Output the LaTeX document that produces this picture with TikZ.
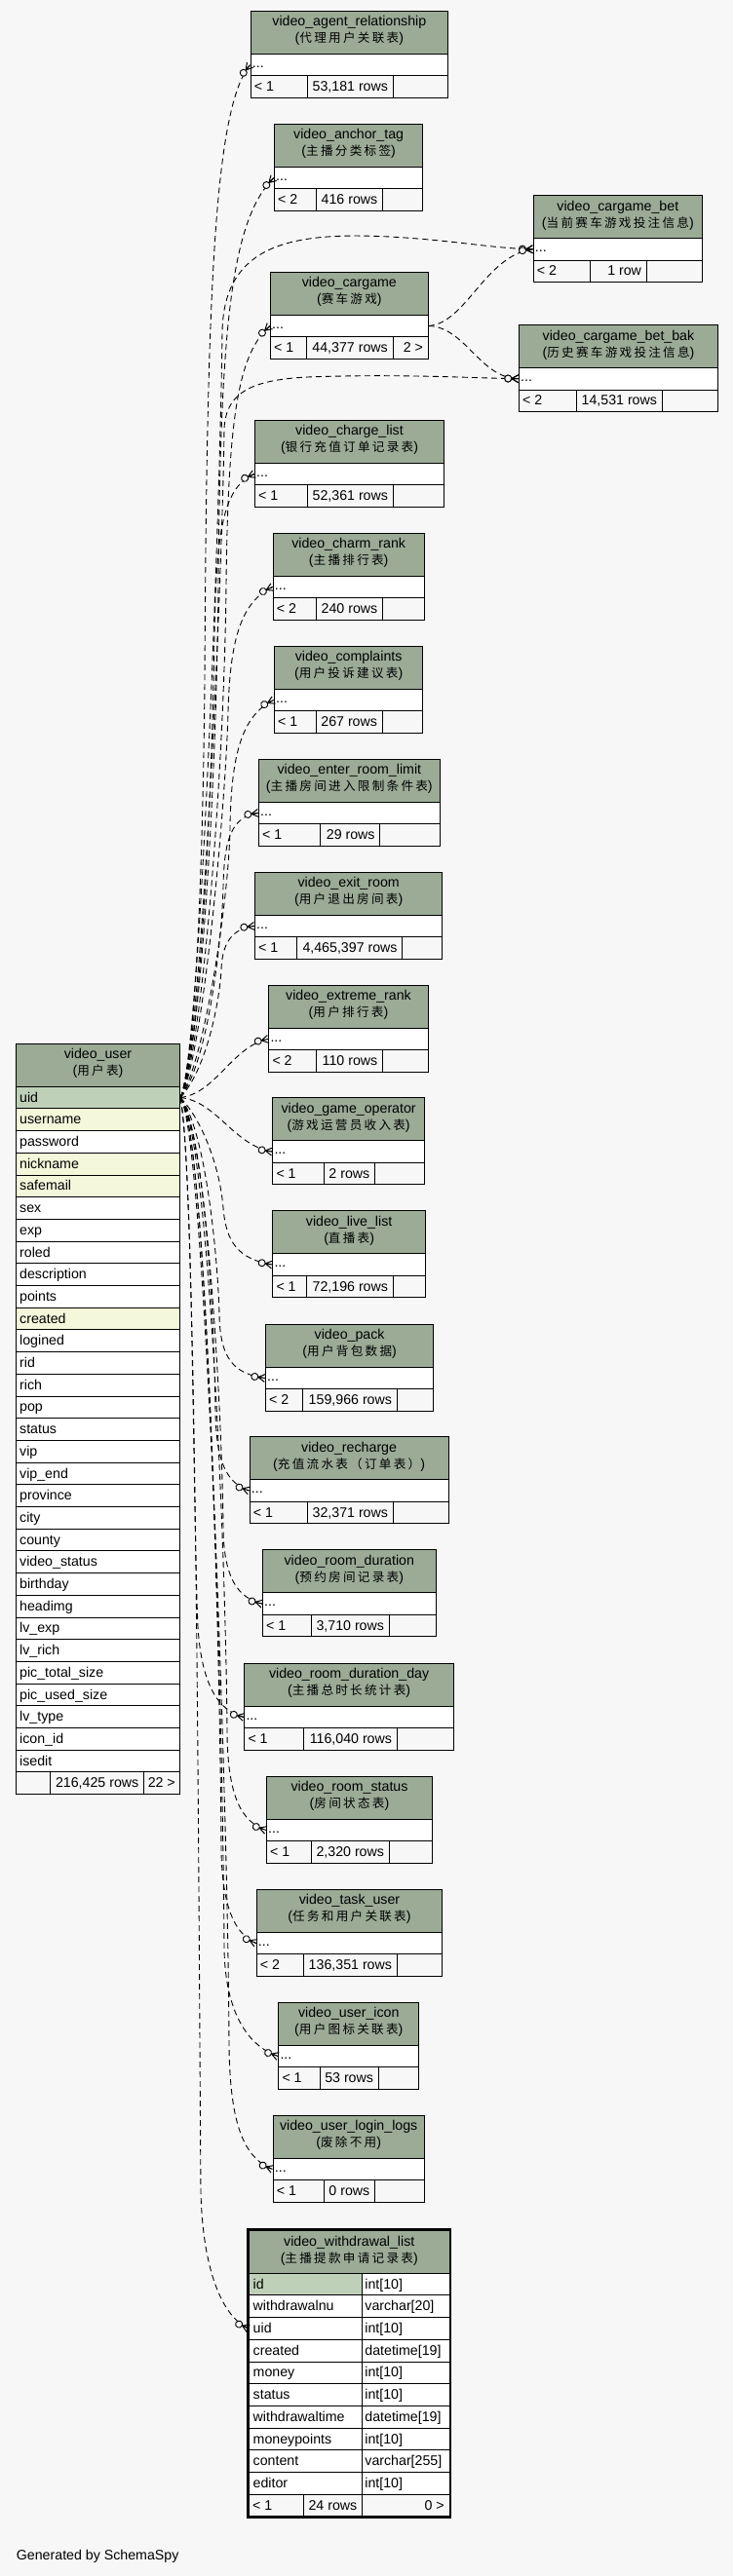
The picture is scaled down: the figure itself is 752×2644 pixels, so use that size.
\documentclass[tikz,border=0pt]{standalone}
\usepackage{fontspec}
\setmainfont{Liberation Sans}
\newfontfamily\cjkfont[LetterSpace=18]{Noto Sans CJK SC}
\usetikzlibrary{decorations.markings}
\definecolor{bgc}{HTML}{F7F7F7}
\definecolor{hdrc}{HTML}{9BAB96}
\definecolor{pkc}{HTML}{BED1B8}
\definecolor{idxc}{HTML}{F4F7DA}
\newcommand\tfont{\fontsize{14.2}{17}\selectfont}
\newcommand\zh[1]{{\cjkfont\fontsize{12.6}{17}\selectfont #1}}
\newcommand\crowmark{%
  \draw[solid,line width=1pt] (-7pt,0pt) -- (0pt,4pt) (-7pt,0pt) -- (0pt,0pt) (-7pt,0pt) -- (0pt,-4pt);
  \draw[solid,line width=0.9pt,fill=bgc] (-10.6pt,0pt) circle (3.5pt);}
\tikzset{
  hdrbox/.style={draw=black,line width=1pt,fill=hdrc,inner sep=0pt,minimum height=44pt},
  rowbox/.style={draw=black,line width=1pt,fill=white,inner sep=0pt},
  cellbox/.style={draw=black,line width=1pt,fill=bgc,inner sep=0pt,minimum height=22.5pt},
  txt/.style={font=\tfont,inner sep=0pt,text=black},
  rel/.style={draw=black,line width=0.9pt,dash pattern=on 6pt off 4pt,
    postaction={decorate,decoration={markings,mark=at position -0.2pt with {\crowmark}}}}
}
% id, x1, x2, top, name, comment, sep1, sep2
\newcommand\tbl[8]{%
  \xdef\tid{#1}\xdef\txa{#2}\xdef\txb{#3}\xdef\tT{#4}\xdef\tsa{#7}\xdef\tsb{#8}%
  \node[hdrbox,minimum width={#3pt-#2pt},anchor=north west] (#1) at (#2,#4) {};
  \node[txt,anchor=base] (#1-name) at ([yshift=-16pt]#1.north) {#5};
  \node[txt,anchor=base] (#1-cmt) at ([yshift=-33pt]#1.north) {(\zh{#6})};
  \node[rowbox,minimum width={#3pt-#2pt},minimum height=22.5pt,anchor=north west] (#1-dots) at (#2,#4+44) {};
  \node[txt,anchor=base west] (#1-dt) at ([xshift=2pt,yshift=-14.5pt]#1-dots.north west) {...};
}
\newcommand\foot[3]{%
  \node[cellbox,minimum width={\tsa pt-\txa pt},anchor=north west] (\tid-f1) at (\txa,\tT+66.5) {};
  \node[cellbox,minimum width={\tsb pt-\tsa pt},anchor=north west] (\tid-f2) at (\tsa,\tT+66.5) {};
  \node[cellbox,minimum width={\txb pt-\tsb pt},anchor=north west] (\tid-f3) at (\tsb,\tT+66.5) {};
  \node[txt,anchor=base west] (\tid-t1) at (\txa+4,\tT+82.8) {#1};
  \node[txt,anchor=base east] (\tid-t2) at (\tsb-4.5,\tT+82.8) {#2};
  \node[txt,anchor=base east] (\tid-t3) at (\txb-4.5,\tT+82.8) {#3};
}
\begin{document}
\begin{tikzpicture}[x=1pt,y=-1pt]
\fill[bgc] (0,0) rectangle (752,2644);
\useasboundingbox (0,0) rectangle (752,2644);

% ---------- small tables ----------
\tbl{agent}{256.7}{459}{10.7}{video\_agent\_relationship}{代理用户关联表}{314.7}{402.7}
\foot{< 1}{53,181 rows}{}
\tbl{anchor}{281}{433.3}{126.7}{video\_anchor\_tag}{主播分类标签}{324}{392}
\foot{< 2}{416 rows}{}
\tbl{bet}{546.7}{720}{200}{video\_cargame\_bet}{当前赛车游戏投注信息}{605}{662.7}
\foot{< 2}{1 row}{}
\tbl{cargame}{277}{438.7}{278.7}{video\_cargame}{赛车游戏}{314.3}{402.5}
\foot{< 1}{44,377 rows}{2 >}
\tbl{betbak}{532}{736}{333}{video\_cargame\_bet\_bak}{历史赛车游戏投注信息}{590.7}{678.7}
\foot{< 2}{14,531 rows}{}
\tbl{charge}{261}{455}{430.7}{video\_charge\_list}{银行充值订单记录表}{314.7}{402.7}
\foot{< 1}{52,361 rows}{}
\tbl{charm}{279.7}{434.7}{546.7}{video\_charm\_rank}{主播排行表}{324}{392}
\foot{< 2}{240 rows}{}
\tbl{complaints}{281}{433.3}{662.7}{video\_complaints}{用户投诉建议表}{324}{391.7}
\foot{< 1}{267 rows}{}
\tbl{enter}{265}{450.7}{778.7}{video\_enter\_room\_limit}{主播房间进入限制条件表}{328}{389.3}
\foot{< 1}{29 rows}{}
\tbl{exit}{261}{453.3}{894.7}{video\_exit\_room}{用户退出房间表}{304}{412.3}
\foot{< 1}{4,465,397 rows}{}
\tbl{extreme}{275.3}{438.7}{1010.7}{video\_extreme\_rank}{用户排行表}{323.7}{392}
\foot{< 2}{110 rows}{}
\tbl{gameop}{279.3}{435}{1126.3}{video\_game\_operator}{游戏运营员收入表}{331.7}{384}
\foot{< 1}{2 rows}{}
\tbl{live}{279.3}{436}{1242.3}{video\_live\_list}{直播表}{314.3}{402.7}
\foot{< 1}{72,196 rows}{}
\tbl{pack}{272}{444.3}{1358.7}{video\_pack}{用户背包数据}{310.3}{406.7}
\foot{< 2}{159,966 rows}{}
\tbl{recharge}{255.7}{459.5}{1474.3}{video\_recharge}{充值流水表（订单表）}{315}{402.7}
\foot{< 1}{32,371 rows}{}
\tbl{rdur}{269}{446.7}{1590.3}{video\_room\_duration}{预约房间记录表}{318.7}{398.7}
\foot{< 1}{3,710 rows}{}
\tbl{rdd}{250.3}{464.9}{1706.7}{video\_room\_duration\_day}{主播总时长统计表}{310.7}{406.7}
\foot{< 1}{116,040 rows}{}
\tbl{rstat}{273}{443}{1822.7}{video\_room\_status}{房间状态表}{318.7}{398.7}
\foot{< 1}{2,320 rows}{}
\tbl{task}{262.7}{453.3}{1938.7}{video\_task\_user}{任务和用户关联表}{310.7}{406.7}
\foot{< 2}{136,351 rows}{}
\tbl{icon}{285.3}{429.3}{2054.7}{video\_user\_icon}{用户图标关联表}{328}{387.7}
\foot{< 1}{53 rows}{}
\tbl{login}{279.7}{434.7}{2170.7}{video\_user\_login\_logs}{废除不用}{332}{384}
\foot{< 1}{0 rows}{}

% ---------- video_user ----------
\node[hdrbox,minimum width=168pt,anchor=north west] (user) at (16,1070.7) {};
\node[txt,anchor=base] (user-name) at ([yshift=-16pt]user.north) {video\_user};
\node[txt,anchor=base] (user-cmt) at ([yshift=-33pt]user.north) {(\zh{用户表})};
\foreach \n/\c [count=\i from 0] in {uid/pkc,username/idxc,password/white,nickname/idxc,safemail/idxc,sex/white,exp/white,roled/white,description/white,points/white,created/idxc,logined/white,rid/white,rich/white,pop/white,status/white,vip/white,vip\_end/white,province/white,city/white,county/white,video\_status/white,birthday/white,headimg/white,lv\_exp/white,lv\_rich/white,pic\_total\_size/white,pic\_used\_size/white,lv\_type/white,icon\_id/white,isedit/white}{
  \node[rowbox,fill=\c,minimum width=168pt,minimum height=22.7pt,anchor=north west] (user-r\i) at (16,1114.7+22.7*\i) {};
  \node[txt,anchor=base west] (user-t\i) at ([xshift=4pt,yshift=-16.4pt]user-r\i.north west) {\n};
}
\node[cellbox,minimum width=35pt,minimum height=22.7pt,anchor=north west] (user-f1) at (16,1818.4) {};
\node[cellbox,minimum width=95.7pt,minimum height=22.7pt,anchor=north west] (user-f2) at (51,1818.4) {};
\node[cellbox,minimum width=37.3pt,minimum height=22.7pt,anchor=north west] (user-f3) at (146.7,1818.4) {};
\node[txt,anchor=base east] (user-ft2) at (142.5,1834.8) {216,425 rows};
\node[txt,anchor=base east] (user-ft3) at (180,1834.8) {22 >};

% ---------- video_withdrawal_list ----------
\draw[line width=2.4pt] (253.8,2287.8) rectangle (461.6,2583.8);
\node[hdrbox,minimum width=205.5pt,minimum height=43.7pt,anchor=north west] (wd) at (255,2289) {};
\node[txt,anchor=base] (wd-name) at ([yshift=-16.8pt]wd.north) {video\_withdrawal\_list};
\node[txt,anchor=base] (wd-cmt) at ([yshift=-33.9pt]wd.north) {(\zh{主播提款申请记录表})};
\foreach \n/\ty/\c [count=\i from 0] in {id/int[10]/pkc,withdrawalnu/varchar[20]/white,uid/int[10]/white,created/datetime[19]/white,money/int[10]/white,status/int[10]/white,withdrawaltime/datetime[19]/white,moneypoints/int[10]/white,content/varchar[255]/white,editor/int[10]/white}{
  \node[rowbox,fill=\c,minimum width=115.7pt,minimum height=22.7pt,anchor=north west] (wd-r\i) at (255,2332.7+22.7*\i) {};
  \node[rowbox,minimum width=89.8pt,minimum height=22.7pt,anchor=north west] (wd-y\i) at (370.7,2332.7+22.7*\i) {};
  \node[txt,anchor=base west] (wd-t\i) at ([xshift=4.5pt,yshift=-16.4pt]wd-r\i.north west) {\n};
  \node[txt,anchor=base west] (wd-u\i) at ([xshift=3.5pt,yshift=-16.4pt]wd-y\i.north west) {\ty};
}
\node[cellbox,minimum width=55.7pt,minimum height=22.7pt,anchor=north west] (wd-f1) at (255,2559.7) {};
\node[cellbox,minimum width=60pt,minimum height=22.7pt,anchor=north west] (wd-f2) at (310.7,2559.7) {};
\node[cellbox,minimum width=89.8pt,minimum height=22.7pt,anchor=north west] (wd-f3) at (370.7,2559.7) {};
\node[txt,anchor=base west] (wd-ft1) at (259,2576.1) {< 1};
\node[txt,anchor=base east] (wd-ft2) at (366.5,2576.1) {24 rows};
\node[txt,anchor=base east] (wd-ft3) at (456,2576.1) {0 >};

\node[txt,anchor=base west] (credit) at (16.7,2627.4) {Generated by SchemaSpy};

% ---------- relationships ----------
\draw[rel] (user-r0.east) .. controls (200,1090) and (208,900) .. (210,700) .. controls (212,300) and (220,110) .. (agent-dots.west);
\draw[rel] (user-r0.east) .. controls (204,1090) and (222,820) .. (224,600) .. controls (226,330) and (238,225) .. (anchor-dots.west);
\draw[rel] (user-r0.east) .. controls (205,1090) and (226,520) .. (228,340) .. controls (230,250) and (300,238) .. (400,243) .. controls (470,247) and (505,255) .. (bet-dots.west);
\draw[rel] (user-r0.east) .. controls (206,1090) and (230,800) .. (232,600) .. controls (234,420) and (246,362) .. (cargame-dots.west);
\draw[rel] (user-r0.east) .. controls (206,1090) and (228,600) .. (230,440) .. controls (232,400) and (262,388) .. (330,386.5) .. controls (420,384) and (485,388) .. (betbak-dots.west);
\draw[rel] (cargame-dots.east) .. controls (478,332) and (498,262) .. (bet-dots.west);
\draw[rel] (cargame-dots.east) .. controls (478,336) and (492,388) .. (betbak-dots.west);
\draw[rel] (user-r0.east) .. controls (205,1090) and (218,800) .. (220,650) .. controls (222,540) and (230,500) .. (charge-dots.west);
\draw[rel] (user-r0.east) .. controls (208,1090) and (232,820) .. (234,730) .. controls (236,660) and (246,618) .. (charm-dots.west);
\draw[rel] (user-r0.east) .. controls (210,1090) and (235,920) .. (236,850) .. controls (237,775) and (248,734) .. (complaints-dots.west);
\draw[rel] (user-r0.east) .. controls (214,1090) and (228,960) .. (229,910) .. controls (230,860) and (238,838) .. (enter-dots.west);
\draw[rel] (user-r0.east) .. controls (214,1095) and (226,1020) .. (227,995) .. controls (228,968) and (238,953) .. (exit-dots.west);
\draw[rel] (user-r0.east) .. controls (222,1122) and (238,1074) .. (extreme-dots.west);
\draw[rel] (user-r0.east) .. controls (222,1130) and (240,1176) .. (gameop-dots.west);
\draw[rel] (user-r0.east) .. controls (208,1150) and (226,1200) .. (229,1240) .. controls (232,1275) and (244,1292) .. (live-dots.west);
\draw[rel] (user-r0.east) .. controls (212,1160) and (224,1300) .. (225,1350) .. controls (226,1395) and (240,1410) .. (pack-dots.west);
\draw[rel] (user-r0.east) .. controls (210,1160) and (220,1360) .. (221,1450) .. controls (222,1500) and (232,1522) .. (recharge-dots.west);
\draw[rel] (user-r0.east) .. controls (212,1160) and (228,1450) .. (229,1570) .. controls (230,1620) and (244,1640) .. (rdur-dots.west);
\draw[rel] (user-r0.east) .. controls (198,1200) and (198,1550) .. (203,1670) .. controls (207,1730) and (224,1756) .. (rdd-dots.west);
\draw[rel] (user-r0.east) .. controls (214,1160) and (232,1600) .. (233,1780) .. controls (234,1845) and (248,1870) .. (rstat-dots.west);
\draw[rel] (user-r0.east) .. controls (212,1160) and (226,1700) .. (227,1900) .. controls (228,1955) and (240,1985) .. (task-dots.west);
\draw[rel] (user-r0.east) .. controls (214,1160) and (229,1800) .. (230,2000) .. controls (231,2065) and (254,2100) .. (icon-dots.west);
\draw[rel] (user-r0.east) .. controls (210,1160) and (234,1850) .. (235,2100) .. controls (236,2180) and (250,2215) .. (login-dots.west);
\draw[rel] (user-r0.east) .. controls (202,1200) and (204,2000) .. (206,2250) .. controls (208,2330) and (228,2378) .. (wd-r2.west);
\end{tikzpicture}
\end{document}
